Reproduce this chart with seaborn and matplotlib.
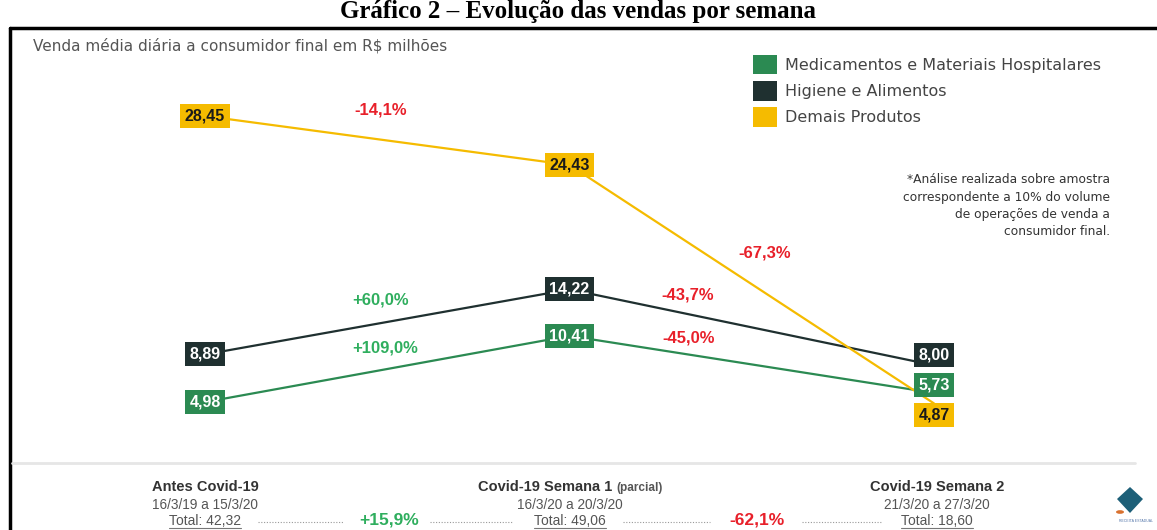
import matplotlib
matplotlib.use("Agg")
import matplotlib.pyplot as plt
import seaborn as sns
import pandas as pd
from matplotlib.lines import Line2D
from matplotlib.patches import Patch, Polygon, Circle

# data
periodos = ["Antes Covid-19", "Covid-19 Semana 1", "Covid-19 Semana 2"]
datas = ["16/3/19 a 15/3/20", "16/3/20 a 20/3/20", "21/3/20 a 27/3/20"]
categorias = ["Medicamentos e Materiais Hospitalares", "Higiene e Alimentos", "Demais Produtos"]
medicamentos = [4.98, 10.41, 5.73]
higiene = [8.89, 14.22, 8.00]
demais = [28.45, 24.43, 4.87]
variacoes = ["-14,1%", "+60,0%", "+109,0%", "-43,7%", "-45,0%", "-67,3%"]
variacao_total = ["+15,9%", "-62,1%"]

cores = {"Medicamentos e Materiais Hospitalares": "#2b8a52",
         "Higiene e Alimentos": "#1f3030",
         "Demais Produtos": "#f5bb00"}

rows = []
for cat, vals in zip(categorias, [medicamentos, higiene, demais]):
    for i, v in enumerate(vals):
        rows.append({"periodo": i, "valor": v, "categoria": cat})
df = pd.DataFrame(rows)

sns.set_theme(style="white")
plt.rcParams["font.family"] = ["Liberation Sans", "DejaVu Sans"]

W, H = 1157, 530
fig = plt.figure(figsize=(W / 100, H / 100), dpi=100)
fig.patch.set_facecolor("white")


def fx(px):
    return px / W


def fy(py):
    return 1 - py / H


# axes mapped so that x=0 -> 205px, x=2 -> 934px ; 28.45 -> 116px, 12.19 px per unit
ax = fig.add_axes([fx(40), fy(440), fx(1060), 400 / H])
ax.set_xlim(-0.4527, 2.4554)
ax.set_ylim(1.87, 34.685)
ax.axis("off")

sns.lineplot(data=df, x="periodo", y="valor", hue="categoria", palette=cores,
             linewidth=1.6, legend=False, ax=ax)

# value labels (last column nudged to avoid overlap)
desloc = {"Medicamentos e Materiais Hospitalares": [0, 0, 8],
          "Higiene e Alimentos": [0, 0, 10],
          "Demais Produtos": [0, 0, -12]}
for cat, vals in zip(categorias, [medicamentos, higiene, demais]):
    tc = "#1a1a1a" if cat == "Demais Produtos" else "white"
    for i, v in enumerate(vals):
        ax.annotate(f"{v:.2f}".replace(".", ","), (i, v), xytext=(0, desloc[cat][i]),
                    textcoords="offset pixels", ha="center", va="center",
                    fontsize=11.5, fontweight="bold", color=tc, zorder=5,
                    bbox=dict(boxstyle="square,pad=0.28", fc=cores[cat], ec="none"))

# variation labels
pos_var = [(0.483, 28.94), (0.483, 13.36), (0.493, 9.42), (1.325, 13.77), (1.328, 10.24), (1.536, 17.21)]
for txt, (x, y) in zip(variacoes, pos_var):
    c = "#2fae5e" if txt.startswith("+") else "#e8202a"
    ax.text(x, y, txt, ha="center", va="center", fontsize=12, fontweight="bold", color=c)

# title and frame
fig.text(0.5, fy(18), "Gráfico 2 – Evolução das vendas por semana", ha="center", va="baseline",
         fontsize=18, fontweight="bold", family=["Liberation Serif"], color="black")
fig.add_artist(Line2D([fx(10), 1], [fy(28), fy(28)], color="black", lw=2.5))
fig.add_artist(Line2D([fx(10), fx(10)], [fy(28), 0], color="black", lw=2.5))

fig.text(fx(33), fy(46), "Venda média diária a consumidor final em R$ milhões",
         ha="left", va="center", fontsize=11, color="#555555", family=["DejaVu Sans"])

# legend
handles = [Patch(facecolor=cores[c], edgecolor="none") for c in categorias]
fig.legend(handles, categorias, loc="upper left", bbox_to_anchor=(fx(753), fy(55)),
           frameon=False, borderpad=0, borderaxespad=0,
           prop={"family": "DejaVu Sans", "size": 11.5}, handlelength=1.5, handleheight=1.5,
           handletextpad=0.5, labelspacing=0.42, labelcolor="#444444")

nota = ["*Análise realizada sobre amostra", "correspondente a 10% do volume",
        "de operações de venda a", "consumidor final."]
for k, linha in enumerate(nota):
    fig.text(fx(1110), fy(180 + k * 17.3), linha, ha="right", va="center",
             fontsize=8.8, color="#333333", family=["DejaVu Sans"])

# bottom summary
fig.add_artist(Line2D([fx(12), fx(1135)], [fy(463), fy(463)], color="#e6e6e6", lw=2))
centros = [205, 570, 937]
totais = [sum(v) for v in zip(medicamentos, higiene, demais)]
for i, cx in enumerate(centros):
    if i == 1:
        fig.text(fx(612), fy(487), "Covid-19 Semana 1", ha="right", va="center",
                 fontsize=10.5, fontweight="bold", color="#333333")
        fig.text(fx(616), fy(488), "(parcial)", ha="left", va="center",
                 fontsize=8.5, fontweight="bold", color="#555555")
    else:
        fig.text(fx(cx), fy(487), periodos[i], ha="center", va="center",
                 fontsize=10.5, fontweight="bold", color="#333333")
    fig.text(fx(cx), fy(505), datas[i], ha="center", va="center", fontsize=9.8, color="#555555")
    fig.text(fx(cx), fy(521), "Total: " + f"{totais[i]:.2f}".replace(".", ","),
             ha="center", va="center", fontsize=10, color="#555555")
    fig.add_artist(Line2D([fx(cx - 36), fx(cx + 36)], [fy(528), fy(528)], color="#777777", lw=0.8))

for txt, cx in zip(variacao_total, [389, 757]):
    c = "#2fae5e" if txt.startswith("+") else "#e8202a"
    fig.text(fx(cx), fy(520), txt, ha="center", va="center", fontsize=12.5,
             fontweight="bold", color=c)

for x0, x1 in [(258, 343), (430, 513), (623, 710), (802, 882)]:
    fig.add_artist(Line2D([fx(x0), fx(x1)], [fy(522), fy(522)], color="#999999",
                          lw=0.8, linestyle=(0, (1, 1.5))))

# logo
fig.add_artist(Polygon([[fx(1130), fy(487)], [fx(1143), fy(499)], [fx(1130), fy(513)],
                        [fx(1117), fy(499)]], closed=True, transform=fig.transFigure,
                       fc="#1d5f78", ec="none"))
fig.add_artist(Circle((fx(1120), fy(512)), 4 / W, transform=fig.transFigure,
                      fc="#d9712f", ec="none"))
fig.text(fx(1136), fy(521), "RECEITA ESTADUAL", ha="center", va="center", fontsize=2.5,
         color="#5577aa")

fig.savefig("out.png", dpi=100, facecolor="white")
